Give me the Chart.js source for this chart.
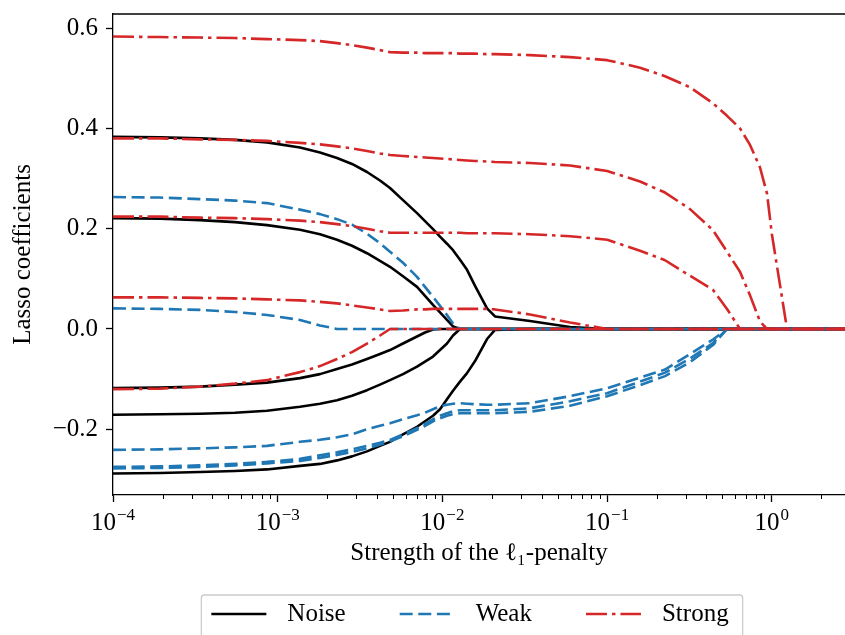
<!DOCTYPE html>
<html>
<head>
<meta charset="utf-8">
<script src="https://cdn.jsdelivr.net/npm/chart.js@4.4.0/dist/chart.umd.min.js"></script>
<style>
  html, body { margin: 0; padding: 0; background: #fff; overflow: hidden; }
  #wrap { width: 845px; height: 635px; }
</style>
</head>
<body>
<div id="wrap"><canvas id="lassoChart" width="845" height="635"></canvas></div>
<script>
// penalty strengths along the path (shared by every coefficient)
const alphas = [
  1.0e-4, 1.929e-4, 3.375e-4, 5.502e-4, 8.61e-4, 1.366e-3, 1.806e-3, 2.291e-3,
  2.825e-3, 3.485e-3, 4.179e-3, 4.807e-3, 5.764e-3, 7.013e-3, 7.842e-3, 8.768e-3,
  9.669e-3, 0.01066, 0.0116, 0.01279, 0.01411, 0.01578, 0.01866, 0.02086,
  0.03402, 0.05953, 0.1, 0.1584, 0.2247, 0.3187, 0.4395, 0.5346, 0.641,
  0.7374, 0.848, 0.9352, 1.0, 1.237, 2.782
];

// coefficient paths, one row per feature
const noiseCoefs = [
  [0.383, 0.382, 0.380, 0.377, 0.372, 0.362, 0.352, 0.341, 0.329, 0.313, 0.296, 0.281, 0.257, 0.231, 0.215, 0.199, 0.184, 0.170, 0.157, 0.138, 0.118, 0.086, 0.041, 0.025, 0.016, 0.004, 0, 0, 0, 0, 0, 0, 0, 0, 0, 0, 0, 0, 0],
  [0.221, 0.220, 0.217, 0.213, 0.207, 0.198, 0.189, 0.178, 0.166, 0.151, 0.136, 0.124, 0.105, 0.084, 0.066, 0.048, 0.033, 0.018, 0.005, 0, 0, 0, 0, 0, 0, 0, 0, 0, 0, 0, 0, 0, 0, 0, 0, 0, 0, 0, 0],
  [-0.118, -0.117, -0.115, -0.111, -0.107, -0.098, -0.090, -0.080, -0.071, -0.060, -0.050, -0.042, -0.029, -0.015, -0.007, -0.001, 0, 0, 0, 0, 0, 0, 0, 0, 0, 0, 0, 0, 0, 0, 0, 0, 0, 0, 0, 0, 0, 0, 0],
  [-0.171, -0.170, -0.169, -0.167, -0.163, -0.155, -0.149, -0.142, -0.133, -0.122, -0.111, -0.102, -0.090, -0.075, -0.065, -0.055, -0.042, -0.029, -0.013, 0, 0, 0, 0, 0, 0, 0, 0, 0, 0, 0, 0, 0, 0, 0, 0, 0, 0, 0, 0],
  [-0.288, -0.287, -0.285, -0.283, -0.280, -0.273, -0.269, -0.262, -0.254, -0.244, -0.233, -0.225, -0.210, -0.195, -0.184, -0.173, -0.160, -0.140, -0.123, -0.105, -0.088, -0.064, -0.020, -0.002, 0, 0, 0, 0, 0, 0, 0, 0, 0, 0, 0, 0, 0, 0, 0]
];
const weakCoefs = [
  [0.263, 0.262, 0.259, 0.256, 0.251, 0.238, 0.229, 0.219, 0.208, 0.190, 0.171, 0.154, 0.132, 0.104, 0.084, 0.064, 0.046, 0.028, 0.011, 0, 0, 0, 0, 0, 0, 0, 0, 0, 0, 0, 0, 0, 0, 0, 0, 0, 0, 0, 0],
  [0.041, 0.040, 0.038, 0.034, 0.028, 0.018, 0.007, 0, 0, 0, 0, 0, 0, 0, 0, 0, 0, 0, 0, 0, 0, 0, 0, 0, 0, 0, 0, 0, 0, 0, 0, 0, 0, 0, 0, 0, 0, 0, 0],
  [-0.241, -0.240, -0.238, -0.236, -0.233, -0.225, -0.221, -0.216, -0.210, -0.200, -0.193, -0.188, -0.180, -0.172, -0.167, -0.160, -0.154, -0.151, -0.149, -0.148, -0.149, -0.150, -0.151, -0.151, -0.148, -0.134, -0.118, -0.097, -0.081, -0.050, -0.021, 0, 0, 0, 0, 0, 0, 0, 0],
  [-0.275, -0.274, -0.272, -0.269, -0.265, -0.259, -0.252, -0.246, -0.240, -0.233, -0.227, -0.221, -0.210, -0.198, -0.189, -0.180, -0.173, -0.168, -0.164, -0.162, -0.162, -0.162, -0.162, -0.162, -0.158, -0.144, -0.128, -0.105, -0.087, -0.059, -0.028, 0, 0, 0, 0, 0, 0, 0, 0],
  [-0.278, -0.277, -0.275, -0.272, -0.268, -0.263, -0.257, -0.251, -0.245, -0.238, -0.231, -0.224, -0.214, -0.201, -0.193, -0.184, -0.178, -0.173, -0.170, -0.168, -0.168, -0.168, -0.168, -0.168, -0.165, -0.153, -0.134, -0.112, -0.094, -0.066, -0.032, 0, 0, 0, 0, 0, 0, 0, 0]
];
const strongCoefs = [
  [0.583, 0.582, 0.581, 0.580, 0.578, 0.576, 0.574, 0.570, 0.566, 0.561, 0.556, 0.552, 0.551, 0.551, 0.550, 0.550, 0.550, 0.550, 0.550, 0.549, 0.549, 0.549, 0.548, 0.548, 0.546, 0.542, 0.536, 0.521, 0.504, 0.482, 0.450, 0.425, 0.400, 0.367, 0.322, 0.270, 0.190, 0, 0],
  [0.380, 0.380, 0.378, 0.377, 0.375, 0.371, 0.368, 0.364, 0.360, 0.355, 0.350, 0.347, 0.345, 0.343, 0.342, 0.341, 0.340, 0.339, 0.338, 0.337, 0.336, 0.335, 0.334, 0.333, 0.331, 0.326, 0.315, 0.294, 0.272, 0.239, 0.197, 0.154, 0.114, 0.067, 0.015, 0, 0, 0, 0],
  [0.224, 0.224, 0.222, 0.221, 0.219, 0.216, 0.213, 0.209, 0.205, 0.200, 0.195, 0.192, 0.192, 0.192, 0.192, 0.192, 0.192, 0.192, 0.192, 0.192, 0.191, 0.191, 0.191, 0.191, 0.189, 0.185, 0.178, 0.156, 0.137, 0.106, 0.078, 0.040, 0, 0, 0, 0, 0, 0, 0],
  [0.063, 0.063, 0.062, 0.061, 0.059, 0.057, 0.054, 0.051, 0.047, 0.043, 0.039, 0.036, 0.037, 0.039, 0.039, 0.040, 0.040, 0.040, 0.040, 0.040, 0.040, 0.040, 0.040, 0.039, 0.029, 0.013, 0, 0, 0, 0, 0, 0, 0, 0, 0, 0, 0, 0, 0],
  [-0.120, -0.119, -0.115, -0.109, -0.102, -0.086, -0.074, -0.060, -0.046, -0.029, -0.013, 0, 0, 0, 0, 0, 0, 0, 0, 0, 0, 0, 0, 0, 0, 0, 0, 0, 0, 0, 0, 0, 0, 0, 0, 0, 0, 0, 0]
];

const groupNames = ['Noise', 'Weak', 'Strong'];
const xTickPowers = [-4, -3, -2, -1, 0];
const yTicks = [-0.2, 0.0, 0.2, 0.4, 0.6];

const FONT = "'Liberation Serif', 'DejaVu Serif', serif";
const styles = {
  Noise: { color: '#000000', dash: [] },
  Weak: { color: '#1f77b4', dash: [13, 5.6] },
  Strong: { color: '#d62728', dash: [21, 5, 3.5, 5] }
};

function makeSets(rows, name, order) {
  return rows.map((vals) => ({
    label: name,
    data: vals.map((v, i) => ({ x: alphas[i], y: v })),
    borderColor: styles[name].color,
    borderDash: styles[name].dash,
    borderWidth: 2.6,
    borderCapStyle: 'butt',
    borderJoinStyle: 'round',
    pointRadius: 0,
    tension: 0,
    fill: false,
    order: order
  }));
}

// spine on top, minor ticks, 10^n labels and the boxed legend
const decorations = {
  id: 'decorations',
  afterDraw(chart) {
    const { ctx, chartArea: a, scales: { x } } = chart;
    ctx.save();
    ctx.strokeStyle = '#000';
    ctx.lineWidth = 1.3;
    ctx.beginPath();
    ctx.moveTo(a.left, a.top);
    ctx.lineTo(a.right, a.top);
    ctx.stroke();

    ctx.lineWidth = 1;
    x.ticks.forEach((t) => {
      if (t.major) return;
      const px = Math.round(x.getPixelForValue(t.value)) + 0.5;
      ctx.beginPath();
      ctx.moveTo(px, a.bottom);
      ctx.lineTo(px, a.bottom + 4);
      ctx.stroke();
    });

    ctx.fillStyle = '#000';
    ctx.textAlign = 'left';
    ctx.textBaseline = 'alphabetic';
    xTickPowers.forEach((p) => {
      const px = x.getPixelForValue(Math.pow(10, p));
      const base = '10';
      const sup = p < 0 ? '\u2212' + Math.abs(p) : String(p);
      ctx.font = `25px ${FONT}`;
      const wb = ctx.measureText(base).width;
      ctx.font = `17px ${FONT}`;
      const ws = ctx.measureText(sup).width;
      const start = px - (wb + ws + 1) / 2;
      ctx.font = `25px ${FONT}`;
      ctx.fillText(base, start, a.bottom + 35);
      ctx.font = `17px ${FONT}`;
      ctx.fillText(sup, start + wb + 1, a.bottom + 25);
    });

    // legend
    const lineLen = 55, lineGap = 21, itemGap = 54, padL = 10, padR = 14;
    ctx.font = `25px ${FONT}`;
    const widths = groupNames.map((n) => ctx.measureText(n).width);
    const total = padL + padR + widths.reduce((s, w) => s + lineLen + lineGap + w, 0) + itemGap * (groupNames.length - 1);
    const cx = (a.left + a.right) / 2 - 7;
    const boxLeft = cx - total / 2;
    const boxTop = a.bottom + 100;
    const midY = boxTop + 19;

    ctx.fillStyle = 'rgba(255,255,255,0.8)';
    ctx.strokeStyle = '#cccccc';
    ctx.lineWidth = 1.3;
    ctx.beginPath();
    ctx.roundRect(boxLeft, boxTop, total, 60, 3);
    ctx.fill();
    ctx.stroke();

    let cur = boxLeft + padL;
    groupNames.forEach((name, i) => {
      ctx.strokeStyle = styles[name].color;
      ctx.setLineDash(styles[name].dash);
      ctx.lineWidth = 2.6;
      ctx.beginPath();
      ctx.moveTo(cur, midY);
      ctx.lineTo(cur + lineLen, midY);
      ctx.stroke();
      ctx.setLineDash([]);
      ctx.fillStyle = '#000';
      ctx.textBaseline = 'middle';
      ctx.font = `25px ${FONT}`;
      ctx.fillText(name, cur + lineLen + lineGap, midY);
      cur += lineLen + lineGap + widths[i] + itemGap;
    });
    ctx.restore();
  }
};

Chart.defaults.color = '#000';
Chart.defaults.font.family = FONT;

new Chart(document.getElementById('lassoChart'), {
  type: 'line',
  data: {
    datasets: [
      ...makeSets(strongCoefs, 'Strong', 0),
      ...makeSets(weakCoefs, 'Weak', 1),
      ...makeSets(noiseCoefs, 'Noise', 2)
    ]
  },
  options: {
    responsive: false,
    animation: false,
    events: [],
    layout: { padding: { top: 14, left: 0, right: 0, bottom: 45 } },
    plugins: { legend: { display: false }, tooltip: { enabled: false } },
    scales: {
      x: {
        type: 'logarithmic',
        min: 1e-4,
        max: 2.782,
        afterBuildTicks(scale) {
          const ticks = [];
          xTickPowers.forEach((p) => {
            for (let k = 1; k <= 9; k++) {
              const v = k * Math.pow(10, p);
              if (v <= scale.max) ticks.push({ value: v, major: k === 1 });
            }
          });
          scale.ticks = ticks;
        },
        afterFit(scale) {
          scale.height = 95;
          scale.paddingLeft = 0;
          scale.paddingRight = 0;
        },
        ticks: { display: false, autoSkip: false },
        grid: {
          drawOnChartArea: false,
          tickLength: 7,
          tickWidth: 1.3,
          tickColor: (c) => (c.tick && c.tick.major ? '#000' : 'rgba(0,0,0,0)')
        },
        border: { color: '#000', width: 1.3 },
        title: {
          display: true,
          text: 'Strength of the \u2113\u2081-penalty',
          font: { size: 25, lineHeight: 1.2 },
          padding: { top: 0, bottom: 22 }
        }
      },
      y: {
        min: -0.331,
        max: 0.628,
        afterBuildTicks(scale) {
          scale.ticks = yTicks.map((v) => ({ value: v }));
        },
        afterFit(scale) {
          scale.width = 113;
          scale.paddingTop = 0;
          scale.paddingBottom = 0;
        },
        ticks: {
          padding: 8,
          font: { size: 25 },
          callback: (v) => (v < 0 ? '\u2212' : '') + Math.abs(v).toFixed(1)
        },
        grid: { drawOnChartArea: false, tickLength: 7, tickWidth: 1.3, tickColor: '#000' },
        border: { color: '#000', width: 1.3 },
        title: {
          display: true,
          text: 'Lasso coefficients',
          font: { size: 25, lineHeight: 1.2 },
          padding: { top: 8, bottom: 0 }
        }
      }
    }
  },
  plugins: [decorations]
});
</script>
</body>
</html>
